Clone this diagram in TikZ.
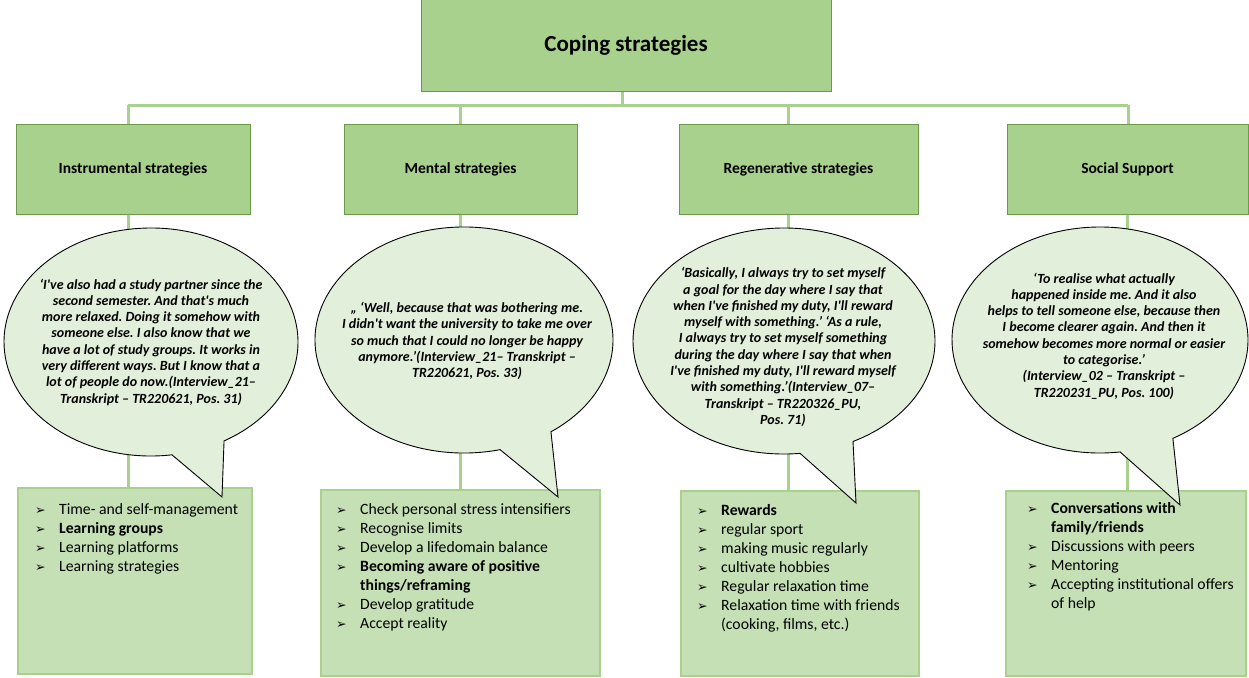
\documentclass[tikz,border=0pt]{standalone}
\usepackage{fontspec}
\setmainfont{Carlito}[Ligatures=TeXOff]
\newfontfamily\djv{DejaVu Sans}
\frenchspacing
\definecolor{boxg}{HTML}{A9D18E}
\definecolor{boxb}{HTML}{6A9A4A}
\definecolor{listg}{HTML}{C5E0B4}
\definecolor{listb}{HTML}{A9D18E}
\definecolor{bubg}{HTML}{E2EFDA}
\definecolor{conng}{HTML}{A9D18E}
\newcommand\bul{\makebox[28pt][l]{\hspace{4pt}\djv\fontsize{12.5}{12}\selectfont ➢}}
\tikzset{
  hbox/.style={draw=boxb, fill=boxg, line width=1pt, inner sep=0pt, font=\bfseries\fontsize{15.5}{18}\selectfont},
  lbox/.style={draw=listb, fill=listg, line width=1.2pt, inner sep=0pt},
  conn/.style={draw=conng, line width=3pt},
  bubble/.style={draw=black, fill=bubg, line width=0.9pt, line join=miter},
  btext/.style={align=center, inner sep=0pt, font=\bfseries\itshape\fontsize{14}{16.3}\selectfont},
  ltext/.style={anchor=base west, inner sep=0pt, font=\fontsize{15.7}{19}\selectfont}
}
\begin{document}
\begin{tikzpicture}[x=1pt,y=-1pt]
\useasboundingbox (0,0) rectangle (1249,677);
% boxes
\node[hbox, minimum width=410pt, minimum height=91pt, font=\bfseries\fontsize{23}{27}\selectfont] (top) at (626,45.5) {Coping strategies};
\node[hbox, minimum width=234pt, minimum height=90pt] (s1) at (133,169) {Instrumental strategies};
\node[hbox, minimum width=233pt, minimum height=90pt] (s2) at (460.5,169) {Mental strategies};
\node[hbox, minimum width=239pt, minimum height=90pt] (s3) at (798.5,169) {Regenerative strategies};
\node[hbox, minimum width=241pt, minimum height=90pt] (s4) at (1127.5,169) {Social Support};
\node[lbox, minimum width=234pt, minimum height=186pt] (b1) at (135,581) {};
\node[lbox, minimum width=279pt, minimum height=186pt] (b2) at (460.5,583) {};
\node[lbox, minimum width=238pt, minimum height=185pt] (b3) at (800,583.5) {};
\node[lbox, minimum width=240pt, minimum height=185pt] (b4) at (1126,583.5) {};
% connectors
\coordinate (busL) at (128,105);
\coordinate (busR) at (1128,105);
\draw[conn] ([xshift=-4pt]top.south) -- ([xshift=-4pt]top.south |- busL);
\draw[conn] (busL) -- (busR);
\draw[conn] (busL) -- (busL |- s1.north);
\draw[conn] (s2.north |- busL) -- (s2.north);
\draw[conn] ([xshift=-10pt]s3.north |- busL) -- ([xshift=-10pt]s3.north);
\draw[conn] (busR) -- (busR |- s4.north);
\draw[conn] ([xshift=-5pt]s1.south) -- ([xshift=-5pt]s1.south |- b1.north);
\draw[conn] (s2.south) -- (s2.south |- b2.north);
\draw[conn] ([xshift=-10pt]s3.south) -- ([xshift=-10pt]s3.south |- b3.north);
\draw[conn] (s4.south) -- (s4.south |- b4.north);
% bubbles
\draw[bubble] (151,342) ++(81.8:147 and 114) arc[start angle=81.8, end angle=420.2, x radius=147, y radius=114] -- (222,497) -- cycle;
\draw[bubble] (464,340) ++(76:149 and 113) arc[start angle=76, end angle=414.3, x radius=149, y radius=113] -- (558,497) -- cycle;
\draw[bubble] (784,341) ++(83.9:151 and 113) arc[start angle=83.9, end angle=422.8, x radius=151, y radius=113] -- (856,503) -- cycle;
\draw[bubble] (1100,340) ++(82.2:148 and 113) arc[start angle=82.2, end angle=420.5, x radius=148, y radius=113] -- (1180,505) -- cycle;
% bubble texts
\node[btext] (q1) at (151,342) {‘I've also had a study partner since the\\second semester. And that's much\\more relaxed. Doing it somehow with\\someone else. I also know that we\\have a lot of study groups. It works in\\very different ways. But I know that a\\lot of people do now.(Interview\_21–\\Transkript – TR220621, Pos. 31)};
\node[btext] (q2) at (467,341) {„ ‘Well, because that was bothering me.\\I didn't want the university to take me over\\so much that I could no longer be happy\\anymore.’(Interview\_21– Transkript –\\TR220621, Pos. 33)};
\node[btext] (q3) at (783,347) {‘Basically, I always try to set myself\\a goal for the day where I say that\\when I've finished my duty, I'll reward\\myself with something.’ ‘As a rule,\\I always try to set myself something\\during the day where I say that when\\I've finished my duty, I'll reward myself\\with something.’(Interview\_07–\\Transkript – TR220326\_PU,\\Pos. 71)};
\node[btext] (q4) at (1104,336) {‘To realise what actually\\happened inside me. And it also\\helps to tell someone else, because then\\I become clearer again. And then it\\somehow becomes more normal or easier\\to categorise.’\\(Interview\_02 – Transkript –\\TR220231\_PU, Pos. 100)};
% list texts
\node[ltext] (t1) at (31,514.5) {\begin{tabular}[t]{@{}l@{}l@{}}
\bul & Time- and self-management\\
\bul & \textbf{Learning groups}\\
\bul & Learning platforms\\
\bul & Learning strategies
\end{tabular}};
\node[ltext] (t2) at (332,514.5) {\begin{tabular}[t]{@{}l@{}l@{}}
\bul & Check personal stress intensifiers\\
\bul & Recognise limits\\
\bul & Develop a lifedomain balance\\
\bul & \textbf{Becoming aware of positive}\\
 & \textbf{things/reframing}\\
\bul & Develop gratitude\\
\bul & Accept reality
\end{tabular}};
\node[ltext] (t3) at (693,515.5) {\begin{tabular}[t]{@{}l@{}l@{}}
\bul & \textbf{Rewards}\\
\bul & regular sport\\
\bul & making music regularly\\
\bul & cultivate hobbies\\
\bul & Regular relaxation time\\
\bul & Relaxation time with friends\\
 & (cooking, films, etc.)
\end{tabular}};
\node[ltext] (t4) at (1023,513.5) {\begin{tabular}[t]{@{}l@{}l@{}}
\bul & \textbf{Conversations with}\\
 & \textbf{family/friends}\\
\bul & Discussions with peers\\
\bul & Mentoring\\
\bul & Accepting institutional offers\\
 & of help
\end{tabular}};
\end{tikzpicture}
\end{document}
